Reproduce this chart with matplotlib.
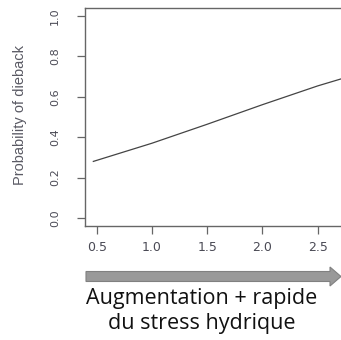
import matplotlib
matplotlib.use("Agg")
import matplotlib.pyplot as plt
from matplotlib.patches import FancyArrow

# data
stress = [0.47, 1.0, 1.5, 2.0, 2.5, 2.75]
prob = [0.28, 0.37, 0.464, 0.561, 0.654, 0.695]
xticks = [0.5, 1.0, 1.5, 2.0, 2.5]
yticks = [0.0, 0.2, 0.4, 0.6, 0.8, 1.0]
ylabel = "Probability of dieback"
caption = "Augmentation + rapide\ndu stress hydrique"

W, H = 341, 340
fig = plt.figure(figsize=(W / 100, H / 100), dpi=100)

# axes in pixel coordinates: left 84.5, top 8, bottom 226, extends past right edge
left, top, bottom = 84.5, 8, 226
x0, ppu = 0.39, 110.5
x1 = 2.9
width_px = (x1 - x0) * ppu
ax = fig.add_axes([left / W, 1 - bottom / H, width_px / W, (bottom - top) / H])
ax.plot(stress, prob, color="#444444", lw=0.9)
ax.set_xlim(x0, x1)
ax.set_ylim(-0.04, 1.04)
ax.set_xticks(xticks)
ax.set_xticklabels([f"{v:.1f}" for v in xticks], family="DejaVu Sans", fontsize=9)
ax.set_yticks(yticks)
ax.set_yticklabels([f"{v:.1f}" for v in yticks], rotation=90, va="center",
                   family="DejaVu Sans", fontsize=8)
for s in ax.spines.values():
    s.set_color("#666666")
    s.set_linewidth(1.0)
ax.tick_params(direction="out", length=5.5, width=0.9, color="#666666",
               labelcolor="#4a4a55")
ax.tick_params(axis="y", pad=12)
ax.tick_params(axis="x", pad=5)
fig.text(20 / W, 1 - 115 / H, ylabel, rotation=90, ha="center", va="center",
         fontsize=10.5, color="#5a5a64", family="Liberation Sans")

# overlay in pixel coordinates for arrow and caption
ov = fig.add_axes([0, 0, 1, 1])
ov.set_xlim(0, W)
ov.set_ylim(H, 0)
ov.axis("off")
arr = FancyArrow(86, 276.5, 244, 0, width=10, head_width=19, head_length=11,
                 length_includes_head=False, facecolor="#999999",
                 edgecolor="#808080", lw=0.8)
ov.add_patch(arr)
ov.text(202, 311, caption, ha="center", va="center", fontsize=15.5,
        family="Open Sans", color="#111111", linespacing=1.2)

fig.savefig("out.png", dpi=100)
